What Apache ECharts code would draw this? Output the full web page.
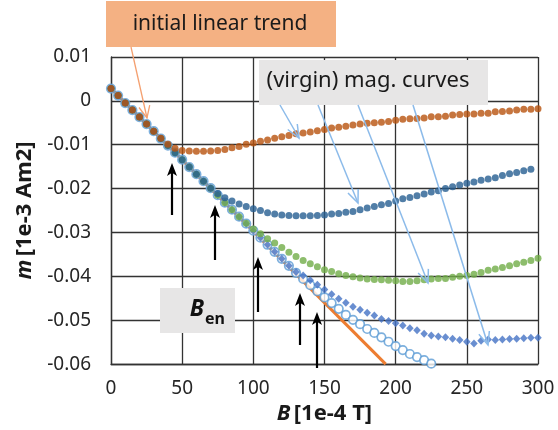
<!DOCTYPE html>
<html><head><meta charset="utf-8">
<script src="https://cdn.jsdelivr.net/npm/echarts@6/dist/echarts.min.js"></script>
<style>html,body{margin:0;padding:0;background:#fff}#c{width:558px;height:430px}</style>
</head><body><div id="c"></div>
<script>
// B field values [1e-4 T]
const bValues = [0,5,10,15,20,25,30,35,40,45,50,55,60,65,70,75,80,85,90,95,100,105,110,115,120,125,130,135,140,145,150,155,160,165,170,175,180,185,190,195,200,205,210,215,220,225,230,235,240,245,250,255,260,265,270,275,280,285,290,295,300];
// magnetic moment m [1e-3 Am2] for the five virgin curves
const curve1 = [0.0028,0.0012,-0.0005,-0.0021,-0.0037,-0.0053,-0.0069,-0.0085,-0.0099,-0.0108,-0.0113,-0.0114,-0.0115,-0.0115,-0.0114,-0.0113,-0.0111,-0.0107,-0.0104,-0.0099,-0.0096,-0.0092,-0.0089,-0.0085,-0.0082,-0.0079,-0.0075,-0.0073,-0.0071,-0.0068,-0.0065,-0.0062,-0.0060,-0.0058,-0.0055,-0.0053,-0.0051,-0.0050,-0.0049,-0.0047,-0.0044,-0.0042,-0.0041,-0.0040,-0.0039,-0.0036,-0.0036,-0.0035,-0.0032,-0.0031,-0.0030,-0.0030,-0.0028,-0.0028,-0.0025,-0.0024,-0.0023,-0.0021,-0.0019,-0.0019,-0.0018];
const curve2 = [0.0028,0.0012,-0.0005,-0.0021,-0.0037,-0.0053,-0.0069,-0.0086,-0.0102,-0.0118,-0.0134,-0.0151,-0.0167,-0.0183,-0.0199,-0.0211,-0.0221,-0.0228,-0.0235,-0.0241,-0.0246,-0.0250,-0.0255,-0.0258,-0.0260,-0.0261,-0.0262,-0.0262,-0.0262,-0.0261,-0.0260,-0.0258,-0.0257,-0.0254,-0.0252,-0.0248,-0.0244,-0.0241,-0.0237,-0.0234,-0.0228,-0.0223,-0.0220,-0.0216,-0.0212,-0.0208,-0.0205,-0.0200,-0.0196,-0.0192,-0.0188,-0.0185,-0.0181,-0.0178,-0.0175,-0.0170,-0.0166,-0.0163,-0.0159,-0.0156];
const curve3 = [0.0028,0.0012,-0.0005,-0.0021,-0.0037,-0.0053,-0.0069,-0.0086,-0.0102,-0.0118,-0.0134,-0.0151,-0.0167,-0.0183,-0.0199,-0.0215,-0.0232,-0.0248,-0.0264,-0.0279,-0.0292,-0.0303,-0.0314,-0.0324,-0.0334,-0.0345,-0.0355,-0.0364,-0.0371,-0.0378,-0.0385,-0.0389,-0.0394,-0.0398,-0.0401,-0.0404,-0.0406,-0.0407,-0.0408,-0.0409,-0.0410,-0.0412,-0.0412,-0.0410,-0.0408,-0.0406,-0.0405,-0.0405,-0.0402,-0.0400,-0.0398,-0.0395,-0.0391,-0.0386,-0.0383,-0.0380,-0.0376,-0.0371,-0.0368,-0.0364,-0.0359];
const curve4 = [0.0028,0.0012,-0.0005,-0.0021,-0.0037,-0.0053,-0.0069,-0.0086,-0.0102,-0.0118,-0.0134,-0.0151,-0.0167,-0.0183,-0.0199,-0.0215,-0.0232,-0.0248,-0.0264,-0.0280,-0.0296,-0.0312,-0.0328,-0.0344,-0.0360,-0.0376,-0.0390,-0.0398,-0.0409,-0.0419,-0.0430,-0.0441,-0.0451,-0.0460,-0.0469,-0.0476,-0.0483,-0.0489,-0.0497,-0.0502,-0.0507,-0.0512,-0.0518,-0.0523,-0.0531,-0.0535,-0.0537,-0.0539,-0.0542,-0.0545,-0.0549,-0.0553,-0.0547,-0.0544,-0.0545,-0.0544,-0.0543,-0.0542,-0.0541,-0.0540,-0.0540];
const curve5 = [0.0028,0.0012,-0.0005,-0.0021,-0.0037,-0.0053,-0.0069,-0.0086,-0.0102,-0.0118,-0.0134,-0.0151,-0.0167,-0.0183,-0.0199,-0.0215,-0.0232,-0.0248,-0.0264,-0.0280,-0.0296,-0.0312,-0.0328,-0.0344,-0.0360,-0.0376,-0.0392,-0.0406,-0.0420,-0.0434,-0.0448,-0.0461,-0.0474,-0.0488,-0.0499,-0.0509,-0.0520,-0.0529,-0.0539,-0.0549,-0.0559,-0.0568,-0.0577,-0.0584,-0.0591,-0.0599];
// initial linear trend
const trendB = [0, 193];
const trendM = [0.0028, -0.0600];
// axis ticks
const xTicks = {min: 0, max: 300, interval: 50};
const yTicks = {min: -0.06, max: 0.01, interval: 0.01};

function pts(xs, ys) { return ys.map((y, i) => [xs[i], y]); }

const FONT = '"Noto Sans", "Open Sans", sans-serif';
const gridColor = '#333333';

function arrow(x1, y1, x2, y2, color, w, hl, hw, filled) {
  const dx = x2 - x1, dy = y2 - y1, L = Math.hypot(dx, dy);
  const ux = dx / L, uy = dy / L, nx = -uy, ny = ux;
  const bx = x2 - ux * hl, by = y2 - uy * hl;
  const p1 = [bx + nx * hw / 2, by + ny * hw / 2];
  const p2 = [bx - nx * hw / 2, by - ny * hw / 2];
  const els = [];
  const endX = filled ? x2 - ux * hl * 0.6 : x2, endY = filled ? y2 - uy * hl * 0.6 : y2;
  els.push({type: 'line', silent: true, z: 100, shape: {x1, y1, x2: endX, y2: endY}, style: {stroke: color, lineWidth: w}});
  if (filled) {
    const notch = [x2 - ux * hl * 0.75, y2 - uy * hl * 0.75];
    els.push({type: 'polygon', silent: true, z: 100, shape: {points: [[x2, y2], p1, notch, p2]}, style: {fill: color}});
  } else {
    els.push({type: 'polyline', silent: true, z: 100, shape: {points: [p1, [x2, y2], p2]}, style: {stroke: color, lineWidth: w, fill: null}});
  }
  return els;
}

const graphics = [];
// text boxes
graphics.push({type: 'rect', z: 90, shape: {x: 106, y: 1, width: 230, height: 46}, style: {fill: '#F4B183'}});
graphics.push({type: 'text', z: 91, style: {text: 'initial linear trend', x: 220, y: 24, align: 'center', verticalAlign: 'middle', font: '21px ' + FONT, fill: '#1a1a1a'}});
graphics.push({type: 'rect', z: 90, shape: {x: 259, y: 60, width: 229, height: 45}, style: {fill: '#E7E6E6'}});
graphics.push({type: 'text', z: 91, style: {text: '(virgin) mag. curves', x: 368, y: 81, align: 'center', verticalAlign: 'middle', font: '22px ' + FONT, fill: '#1a1a1a'}});
graphics.push({type: 'rect', z: 90, shape: {x: 160, y: 288, width: 75, height: 45}, style: {fill: '#E7E6E6'}});
graphics.push({type: 'text', z: 91, style: {text: 'B', x: 204, y: 321, align: 'right', verticalAlign: 'bottom', font: 'italic bold 23px ' + FONT, fill: '#111'}});
graphics.push({type: 'text', z: 91, style: {text: 'en', x: 205, y: 327, align: 'left', verticalAlign: 'bottom', font: 'bold 16px ' + FONT, fill: '#111'}});
// orange arrow
graphics.push(...arrow(131, 47, 147, 118, '#F4A070', 1.3, 12, 11, false));
// light blue arrows
const lb = '#8CBBEA';
graphics.push(...arrow(280, 105, 299, 138, lb, 1.5, 13, 11, false));
graphics.push(...arrow(318, 105, 358, 203, lb, 1.5, 13, 11, false));
graphics.push(...arrow(358, 105, 428, 283, lb, 1.5, 13, 11, false));
graphics.push(...arrow(413, 105, 488, 345, lb, 1.5, 13, 11, false));
// black B_en arrows
graphics.push(...arrow(172, 215, 172, 163, '#000', 2.2, 13, 10, true));
graphics.push(...arrow(215, 260, 215, 205, '#000', 2.2, 13, 10, true));
graphics.push(...arrow(258, 312, 258, 257, '#000', 2.2, 13, 10, true));
graphics.push(...arrow(300, 345, 300, 293, '#000', 2.2, 13, 10, true));
graphics.push(...arrow(317, 368, 317, 312, '#000', 2.2, 13, 10, true));

const nameRich = {
  i: {fontStyle: 'italic', fontWeight: 'bold', fontSize: 22, fontFamily: FONT, color: '#1a1a1a'},
  b: {fontWeight: 'bold', fontSize: 22, fontFamily: FONT, color: '#1a1a1a'}
};

const chart = echarts.init(document.getElementById('c'), null, {renderer: 'canvas'});
chart.setOption({
  animation: false,
  backgroundColor: '#fff',
  grid: {left: 111, right: 20, top: 57, bottom: 62, containLabel: false},
  xAxis: {
    type: 'value', min: xTicks.min, max: xTicks.max, interval: xTicks.interval,
    name: '{i|B} {b|[1e-4 T]}', nameLocation: 'middle', nameGap: 35,
    nameTextStyle: {rich: nameRich},
    axisLine: {show: true, onZero: false, lineStyle: {color: gridColor, width: 1.3}},
    axisTick: {show: false},
    axisLabel: {fontSize: 19, fontFamily: FONT, color: '#262626', margin: 15},
    splitLine: {show: true, lineStyle: {color: gridColor, width: 1.3}}
  },
  yAxis: {
    type: 'value', min: yTicks.min, max: yTicks.max, interval: yTicks.interval,
    name: '{i|m} {b|[1e-3 Am2]}', nameLocation: 'middle', nameGap: 75, nameRotate: 90,
    nameTextStyle: {rich: nameRich},
    axisLine: {show: true, onZero: false, lineStyle: {color: gridColor, width: 1.3}},
    axisTick: {show: false},
    axisLabel: {fontSize: 19, fontFamily: FONT, color: '#262626', margin: 20},
    splitLine: {show: true, lineStyle: {color: gridColor, width: 1.3}}
  },
  series: [
    {type: 'line', name: 'trend', data: pts(trendB, trendM), showSymbol: false, symbol: 'none', lineStyle: {color: '#ED7D31', width: 3}, z: 1, clip: true},
    {type: 'scatter', name: 'c5', data: pts(bValues, curve5), symbol: 'circle', symbolSize: 8.5, itemStyle: {color: '#fff', borderColor: '#5B9BD5', borderWidth: 1.7}, z: 2, clip: false},
    {type: 'scatter', name: 'c4', data: pts(bValues, curve4), symbol: 'diamond', symbolSize: [7.5, 8], itemStyle: {color: '#4472C4'}, z: 3, clip: false},
    {type: 'scatter', name: 'c3', data: pts(bValues, curve3), symbol: 'circle', symbolSize: 7, itemStyle: {color: '#70AD47'}, z: 4, clip: false},
    {type: 'scatter', name: 'c2', data: pts(bValues, curve2), symbol: 'circle', symbolSize: 7, itemStyle: {color: '#255E91'}, z: 5, clip: false},
    {type: 'scatter', name: 'c1', data: pts(bValues, curve1), symbol: 'circle', symbolSize: 7, itemStyle: {color: '#B8520E'}, z: 6, clip: false}
  ],
  graphic: {elements: graphics}
});
</script></body></html>
